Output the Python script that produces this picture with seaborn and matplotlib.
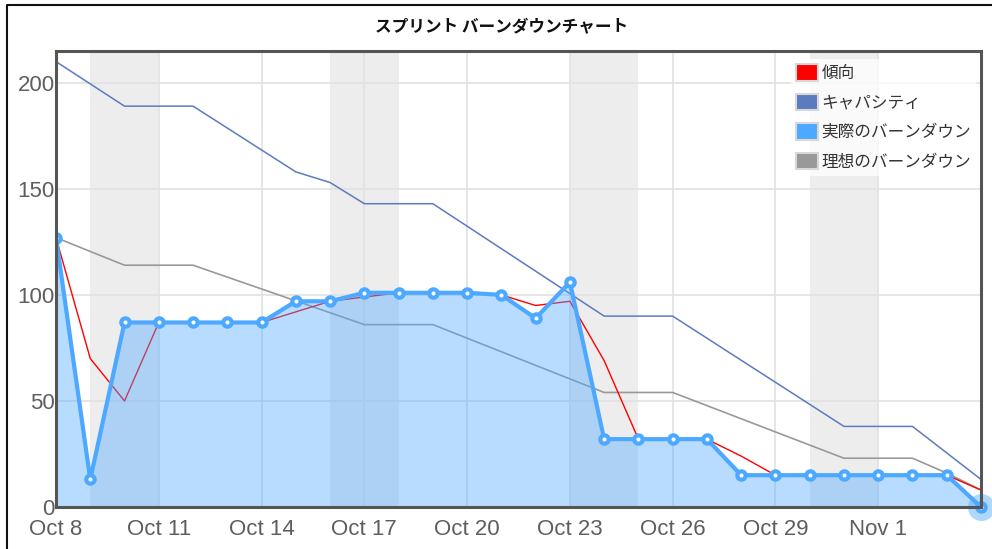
import pandas as pd
import matplotlib
matplotlib.use("Agg")
import matplotlib.pyplot as plt
from matplotlib.patches import Patch
from matplotlib.lines import Line2D
import seaborn as sns

# Sprint days (Oct 8 .. Nov 4)
n_days = 28

# Remaining work per day
actual = [127, 13, 87, 87, 87, 87, 87, 97, 97, 101, 101, 101, 101, 100,
          89, 106, 32, 32, 32, 32, 15, 15, 15, 15, 15, 15, 15, 0]
trend = [127, 70, 50, 87, 87, 87, 87, 92, 97, 99, 101, 101, 101, 100,
         95, 97, 69, 32, 32, 32, 24, 15, 15, 15, 15, 15, 15, 8]

# Capacity and ideal lines, given at their break points (day index, value)
capacity_days = [0, 2, 4, 7, 8, 9, 11, 16, 18, 23, 25, 27]
capacity_vals = [210, 189, 189, 158, 153, 143, 143, 90, 90, 38, 38, 13]
ideal_days = [0, 2, 4, 9, 11, 16, 18, 23, 25, 26, 27]
ideal_vals = [127, 114, 114, 86, 86, 54, 54, 23, 23, 16, 8]

# Non-working day bands (start day, end day)
off_bands = [(1, 3), (8, 10), (15, 17), (22, 24)]

tick_days = [0, 3, 6, 9, 12, 15, 18, 21, 24]
tick_labels = ["Oct 8", "Oct 11", "Oct 14", "Oct 17", "Oct 20",
               "Oct 23", "Oct 26", "Oct 29", "Nov 1"]
y_ticks = [0, 50, 100, 150, 200]

title = "スプリント バーンダウンチャート"
labels = ["傾向", "キャパシティ", "実際のバーンダウン", "理想のバーンダウン"]
colors = ["#ff0000", "#5b7bc0", "#4da9ff", "#999999"]

df = pd.DataFrame({"day": range(n_days), "actual": actual, "trend": trend})
cap_df = pd.DataFrame({"day": capacity_days, "value": capacity_vals})
ideal_df = pd.DataFrame({"day": ideal_days, "value": ideal_vals})

sns.set_theme(style="white")
plt.rcParams["font.family"] = ["Liberation Sans", "Noto Sans CJK JP", "DejaVu Sans"]

fig = plt.figure(figsize=(9.92, 5.49), dpi=100)
ax = fig.add_axes([56 / 992, 1 - 507 / 549, (981 - 56) / 992, (507 - 51) / 549])

for a, b in off_bands:
    ax.axvspan(a, b, color="#ededed", lw=0, zorder=0)

ax.set_xticks(tick_days)
ax.set_xticklabels(tick_labels)
ax.set_yticks(y_ticks)
ax.grid(True, color="#e2e2e2", lw=1.2, zorder=1)
ax.set_axisbelow(True)

sns.lineplot(data=cap_df, x="day", y="value", ax=ax, color=colors[1],
             lw=1.1, zorder=3)
sns.lineplot(data=ideal_df, x="day", y="value", ax=ax, color=colors[3],
             lw=1.2, zorder=3)
sns.lineplot(data=df, x="day", y="trend", ax=ax, color=colors[0],
             lw=1.0, zorder=3)

ax.fill_between(df["day"], df["actual"], 0, color="#4da9ff", alpha=0.4,
                lw=0, zorder=4)
sns.lineplot(data=df, x="day", y="actual", ax=ax, color=colors[2], lw=3.0,
             marker="o", markersize=6, markerfacecolor="white",
             markeredgecolor=colors[2], markeredgewidth=3, zorder=5)
# highlighted last point
ax.scatter(df["day"].iloc[-1], df["actual"].iloc[-1], s=380, color=colors[2],
           alpha=0.45, lw=0, zorder=6, clip_on=False)
ax.scatter(df["day"].iloc[-1], df["actual"].iloc[-1], s=36, color="white",
           edgecolor=colors[2], lw=3, zorder=7, clip_on=False)

ax.set_xlim(0, 27)
ax.set_ylim(0, 215)
ax.set_xlabel("")
ax.set_ylabel("")
for s in ax.spines.values():
    s.set_color("#555555")
    s.set_linewidth(2.2)
    s.set_zorder(8)
ax.tick_params(axis="both", labelsize=16, colors="#5e5e5e", length=0)
ax.tick_params(axis="x", pad=8.5)
ax.tick_params(axis="y", pad=1)

handles = [Patch(facecolor=c, edgecolor="#d8d8d8", lw=1.5) for c in colors]
leg = ax.legend(handles, labels, loc="upper right",
                bbox_to_anchor=(976 / 992, 1 - 59 / 549),
                bbox_transform=fig.transFigure,
                prop={"family": ["Noto Sans CJK JP"], "size": 12},
                frameon=True, fancybox=False, framealpha=0.75,
                edgecolor="none", facecolor="white",
                handlelength=1.35, handleheight=1.15, handletextpad=0.2,
                labelspacing=0.7, borderpad=0.3, borderaxespad=0)
leg.set_zorder(9)
for t in leg.get_texts():
    t.set_color("#333333")

fig.text(502 / 992, 1 - 27 / 549, title, ha="center", va="center",
         fontsize=12, fontweight="bold", color="#111111",
         family=["Noto Sans CJK JP"])

# outer panel border
fig.add_artist(Line2D([7 / 992, 7 / 992, 1.0], [0.0, 1 - 5 / 549, 1 - 5 / 549],
                      transform=fig.transFigure, color="#111111", lw=1.5))

fig.savefig("out.png", dpi=100)
